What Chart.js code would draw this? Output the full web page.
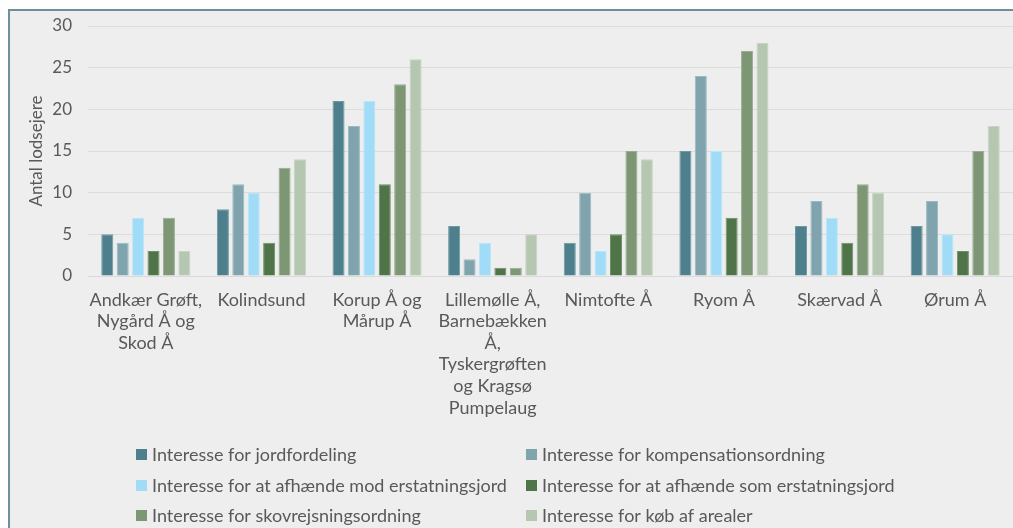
<!DOCTYPE html>
<html>
<head>
<meta charset="utf-8">
<script src="https://cdn.jsdelivr.net/npm/chart.js@4.4.0/dist/chart.umd.min.js"></script>
<style>
  html, body { margin: 0; padding: 0; background: #ffffff; }
  #box {
    position: absolute;
    left: 8px;
    top: 9px;
    width: 1003px;
    height: 517px;
    background: #eeeeee;
    border-left: 2px solid #6d8e9c;
    border-top: 2px solid #6d8e9c;
  }
</style>
</head>
<body>
<div id="box"><canvas id="myChart" width="1003" height="517"></canvas></div>
<script>
const categories = [
    ['Andkær Grøft,', 'Nygård Å og', 'Skod Å'],
    'Kolindsund',
    ['Korup Å og', 'Mårup Å'],
    ['Lillemølle Å,', 'Barnebækken', 'Å,', 'Tyskergrøften', 'og Kragsø', 'Pumpelaug'],
    'Nimtofte Å',
    'Ryom Å',
    'Skærvad Å',
    'Ørum Å'
];

const seriesNames = [
    'Interesse for jordfordeling',
    'Interesse for kompensationsordning',
    'Interesse for at afhænde mod erstatningsjord',
    'Interesse for at afhænde som erstatningsjord',
    'Interesse for skovrejsningsordning',
    'Interesse for køb af arealer'
];

const jordfordeling     = [5, 8, 21, 6, 4, 15, 6, 6];
const kompensation      = [4, 11, 18, 2, 10, 24, 9, 9];
const afhaendeMod       = [7, 10, 21, 4, 3, 15, 7, 5];
const afhaendeSom       = [3, 4, 11, 1, 5, 7, 4, 3];
const skovrejsning      = [7, 13, 23, 1, 15, 27, 11, 15];
const koebAfArealer     = [3, 14, 26, 5, 14, 28, 10, 18];

const yTicks = [0, 5, 10, 15, 20, 25, 30];

const seriesValues = [jordfordeling, kompensation, afhaendeMod, afhaendeSom, skovrejsning, koebAfArealer];
const fillColors = ['#4e7f8c', '#7fa4ae', '#a0dcf7', '#4e7447', '#7d9674', '#b5c7b0'];
const edgeColors = ['#6f98a3', '#9bbac2', '#b8e6fa', '#6f8f68', '#98ad90', '#c7d5c3'];

const textColor = '#595959';
const fontFamily = 'Lato, "Open Sans", sans-serif';

// legend in two columns under the axis labels
const gridLegend = {
    id: 'gridLegend',
    afterDraw(chart) {
        const ctx = chart.ctx;
        const colX = [126, 516];
        const rowY = [443, 474, 504];
        ctx.save();
        ctx.font = '18px ' + fontFamily;
        ctx.textBaseline = 'middle';
        chart.data.datasets.forEach(function (ds, i) {
            const x = colX[i % 2];
            const y = rowY[Math.floor(i / 2)];
            ctx.fillStyle = ds.backgroundColor;
            ctx.fillRect(x, y - 5, 11, 11);
            ctx.fillStyle = textColor;
            ctx.fillText(ds.label, x + 16, y + 1);
        });
        ctx.restore();
    }
};

const ctx = document.getElementById('myChart').getContext('2d');
const mychart = new Chart(ctx, {
    type: 'bar',
    data: {
        labels: categories,
        datasets: seriesValues.map(function (vals, i) {
            return {
                label: seriesNames[i],
                data: vals,
                backgroundColor: fillColors[i],
                borderColor: edgeColors[i],
                borderWidth: 1,
                categoryPercentage: 0.8,
                barPercentage: 0.78
            };
        })
    },
    options: {
        responsive: false,
        animation: false,
        layout: { padding: { top: 15, left: 0, right: 0, bottom: 0 } },
        plugins: {
            legend: { display: false },
            tooltip: { enabled: false }
        },
        scales: {
            x: {
                grid: { display: false, drawTicks: false },
                border: { color: '#d9d9d9', width: 1 },
                ticks: {
                    color: textColor,
                    font: { family: fontFamily, size: 18 },
                    padding: 13,
                    maxRotation: 0,
                    autoSkip: false
                },
                afterFit: function (scale) {
                    scale.height = 252;
                    scale.paddingLeft = 0;
                    scale.paddingRight = 0;
                }
            },
            y: {
                min: 0,
                max: 30,
                afterBuildTicks: function (scale) {
                    scale.ticks = yTicks.map(function (v) { return { value: v }; });
                },
                grid: { color: '#dcdcdc', drawTicks: false },
                border: { display: false },
                ticks: {
                    color: textColor,
                    font: { family: fontFamily, size: 17 },
                    padding: 16
                },
                title: {
                    display: true,
                    text: 'Antal lodsejere',
                    color: textColor,
                    font: { family: fontFamily, size: 17 },
                    padding: { top: 16, bottom: 0 }
                },
                afterFit: function (scale) {
                    scale.width = 78;
                    scale.paddingTop = 0;
                    scale.paddingBottom = 0;
                }
            }
        }
    },
    plugins: [gridLegend]
});
</script>
</body>
</html>
